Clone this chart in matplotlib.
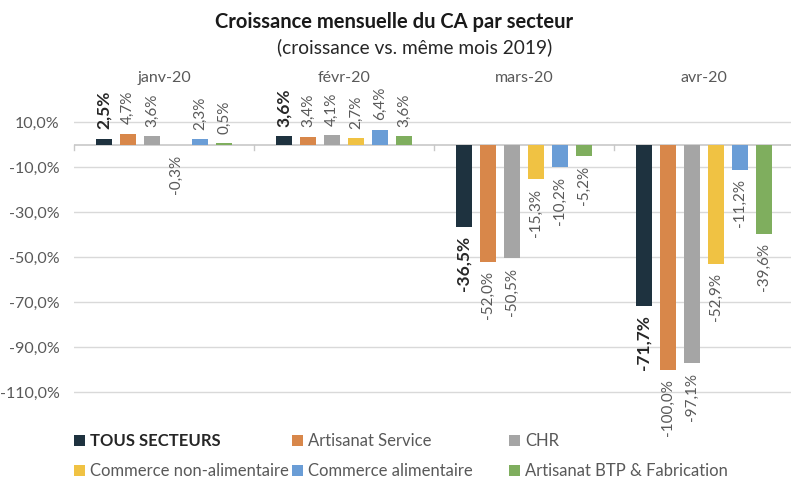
import matplotlib
matplotlib.use('Agg')
import matplotlib.pyplot as plt
import numpy as np

plt.rcParams['font.family'] = ['Lato', 'DejaVu Sans']

months = ['janv-20', 'févr-20', 'mars-20', 'avr-20']
series_names = ['TOUS SECTEURS', 'Artisanat Service', 'CHR',
                'Commerce non-alimentaire', 'Commerce alimentaire',
                'Artisanat BTP & Fabrication']
tous_secteurs = [2.5, 3.6, -36.5, -71.7]
artisanat_service = [4.7, 3.4, -52.0, -100.0]
chr_values = [3.6, 4.1, -50.5, -97.1]
commerce_non_alim = [-0.3, 2.7, -15.3, -52.9]
commerce_alim = [2.3, 6.4, -10.2, -11.2]
artisanat_btp = [0.5, 3.6, -5.2, -39.6]
yticks = [10, -10, -30, -50, -70, -90, -110]

all_series = [tous_secteurs, artisanat_service, chr_values,
              commerce_non_alim, commerce_alim, artisanat_btp]
colors = ['#1e323f', '#d8874a', '#a5a5a5', '#f0c243', '#6a9dd6', '#7fae5e']

W, H = 791, 479
fig = plt.figure(figsize=(W / 100, H / 100), dpi=100)
ax_left = 74 / W
ax_bottom = 1 - 414.5 / H
ax_top = 1 - 65.75 / H
ax = fig.add_axes([ax_left, ax_bottom, 1 - ax_left, ax_top - ax_bottom])

cat_px = 180
ax_w_px = W - 74
ax.set_xlim(-0.5, -0.5 + ax_w_px / cat_px)
ax.set_ylim(-120, 35)

x = np.arange(len(months))
step = 24 / cat_px
bw = 16 / cat_px
label_gray = '#595959'

handles = []
for i, (vals, name, col) in enumerate(zip(all_series, series_names, colors)):
    pos = x + (i - 2.5) * step
    b = ax.bar(pos, vals, width=bw, color=col, zorder=3, label=name)
    handles.append(b)
    for px, v in zip(pos, vals):
        txt = f"{v:.1f}%".replace('.', ',')
        if i == 0:
            kw = dict(fontsize=12.5, fontweight='bold', color='#262626')
        else:
            kw = dict(fontsize=11, color=label_gray)
        ax.annotate(txt, (px, v), xytext=(0, 7 if v >= 0 else -7),
                    textcoords='offset points', rotation=90,
                    ha='center', va='bottom' if v >= 0 else 'top', **kw)

ax.set_yticks(yticks)
ax.set_yticklabels([f"{t:.1f}%".replace('.', ',') for t in yticks],
                   fontsize=11.5, color=label_gray)
ax.tick_params(axis='y', length=0, pad=10.5)
ax.grid(axis='y', color='#d9d9d9', linewidth=1, zorder=0)
ax.axhline(0, color='#c8c8c8', linewidth=1.2, zorder=2)
for s in ax.spines.values():
    s.set_visible(False)

ax.set_xticks([])
# category separators (small ticks below the zero line)
for b in np.arange(-0.5, len(months), 1.0):
    ax.plot([b, b], [0, -2.5], color='#c8c8c8', linewidth=1, zorder=2, clip_on=False)
for xi, m in zip(x, months):
    ax.text(xi, 29.5, m, ha='center', va='center', fontsize=11.5, color=label_gray)

fig.text(394 / W, 1 - 22 / H, 'Croissance mensuelle du CA par secteur',
         ha='center', va='center', fontsize=14.5, fontweight='bold', color='#1a1a1a')
fig.text(415 / W, 1 - 47 / H, '(croissance vs. même mois 2019)',
         ha='center', va='center', fontsize=13.8, color='#262626')

legend_pos = [(74, 441), (292, 441), (509, 441), (74, 471), (292, 471), (509, 471)]
for i, (h, name) in enumerate(zip(handles, series_names)):
    lx, ly = legend_pos[i]
    leg = fig.legend([h], [name], loc='center left',
                     bbox_to_anchor=(lx / W, 1 - ly / H), frameon=False,
                     handlelength=0.65, handleheight=0.65, handletextpad=0.3,
                     borderaxespad=0, borderpad=0, fontsize=12)
    t = leg.get_texts()[0]
    if i == 0:
        t.set_fontweight('bold')
        t.set_color('#262626')
    else:
        t.set_color(label_gray)

fig.savefig('out.png', dpi=100)
